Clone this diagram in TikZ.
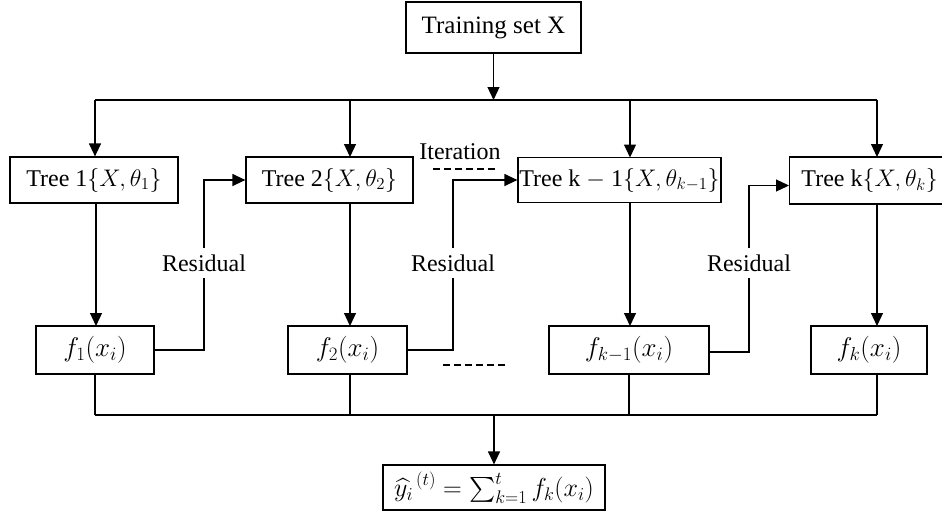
\RequirePackage{fix-cm}
\documentclass[tikz,border=0pt]{standalone}
\usepackage{amsmath}
\usepackage{fontspec}
\setmainfont{Liberation Serif}
\usetikzlibrary{arrows.meta}
\begin{document}
\begin{tikzpicture}[x=1pt,y=-1pt,line width=1.2pt,
  box/.style={draw,inner sep=0pt,font=\fontsize{24}{28}\selectfont},
  fbox/.style={box,font=\fontsize{27}{31}\selectfont},
  lbl/.style={inner sep=0pt,font=\fontsize{24}{28}\selectfont},
  arr/.style={-{Triangle[length=13pt,width=12pt]}},
  dsh/.style={dash pattern=on 7pt off 4pt}]
\useasboundingbox (0,0) rectangle (942,512);
% nodes
\node[box,minimum width=175pt,minimum height=51pt,font=\fontsize{25}{29}\selectfont] (ts) at (493.5,27.5) {Training set X};
\node[box,minimum width=168pt,minimum height=46pt] (t1) at (94,180) {Tree 1$\{X,\theta_1\}$};
\node[box,minimum width=167pt,minimum height=46pt] (t2) at (329.5,180) {Tree 2$\{X,\theta_2\}$};
\node[box,minimum width=203pt,minimum height=45pt] (tk1) at (619.5,180) {Tree k $-$ 1$\{X,\theta_{k-1}\}$};
\node[box,minimum width=160pt,minimum height=47pt,anchor=west] (tk) at (789,180.5) {Tree k$\{X,\theta_k\}$};
\node[fbox,minimum width=118pt,minimum height=48pt] (f1) at (95,350) {$f_1(x_i)$};
\node[fbox,minimum width=119pt,minimum height=48pt] (f2) at (347.5,350) {$f_2(x_i)$};
\node[fbox,minimum width=160pt,minimum height=48pt] (fk1) at (629,350) {$f_{k-1}(x_i)$};
\node[fbox,minimum width=116pt,minimum height=48pt] (fk) at (869,350) {$f_k(x_i)$};
\node[box,font=\fontsize{26}{30}\selectfont,minimum width=222pt,minimum height=45pt] (y) at (494,487.5) {${\widehat{y_i}}^{\,(t)}=\sum_{k=1}^{t}f_k(x_i)$};
% labels
\node[lbl,fill=white,inner ysep=6pt] (r1) at (204,263) {Residual};
\node[lbl,fill=white,inner ysep=6pt] (r2) at (453,263) {Residual};
\node[lbl,fill=white,inner ysep=6pt] (r3) at (749,263) {Residual};
\node[lbl] (it) at (460,152) {Iteration};
% coordinates
\coordinate (bt) at (493.5,100);
\coordinate (bl) at (95,100);
\coordinate (br) at (877,100);
\coordinate (bb) at (494,415);
\coordinate (bbl) at (95,415);
\coordinate (bbr) at (877,415);
% top bus
\draw[arr] (ts.south -| bt) -- (bt);
\draw (bl) -- (br);
\draw[arr] (bl) -- (bl |- t1.north);
\draw[arr] (350,100) -- (350,157);
\draw[arr] (630,100) -- (630,157.5);
\draw[arr] (br) -- (877,157);
% tree to f
\draw[arr] (96,203) -- (96,326);
\draw[arr] (350,203) -- (350,326);
\draw[arr] (630,202.5) -- (630,326);
\draw[arr] (877,204) -- (877,326);
% residual connectors
\draw (f1.east) -| (r1.south);
\draw[arr] (r1.north) |- (t2.west);
\draw (f2.east) -| (r2.south);
\draw[arr] (r2.north) |- (tk1.west);
\draw (fk1.east |- 0,352) -| (r3.south);
\draw[arr] (r3.north) |- ([yshift=-5pt]tk.west);
% dashed
\draw[dsh] (433,169) -- (497,169);
\draw[dsh] (443,365) -- (505,365);
% bottom bus
\draw (95,374) -- (bbl);
\draw (350,374) -- (350,415);
\draw (629,374) -- (629,415);
\draw (877,374) -- (bbr);
\draw (bbl) -- (bbr);
\draw[arr] (bb) -- (y.north);
\end{tikzpicture}
\end{document}
